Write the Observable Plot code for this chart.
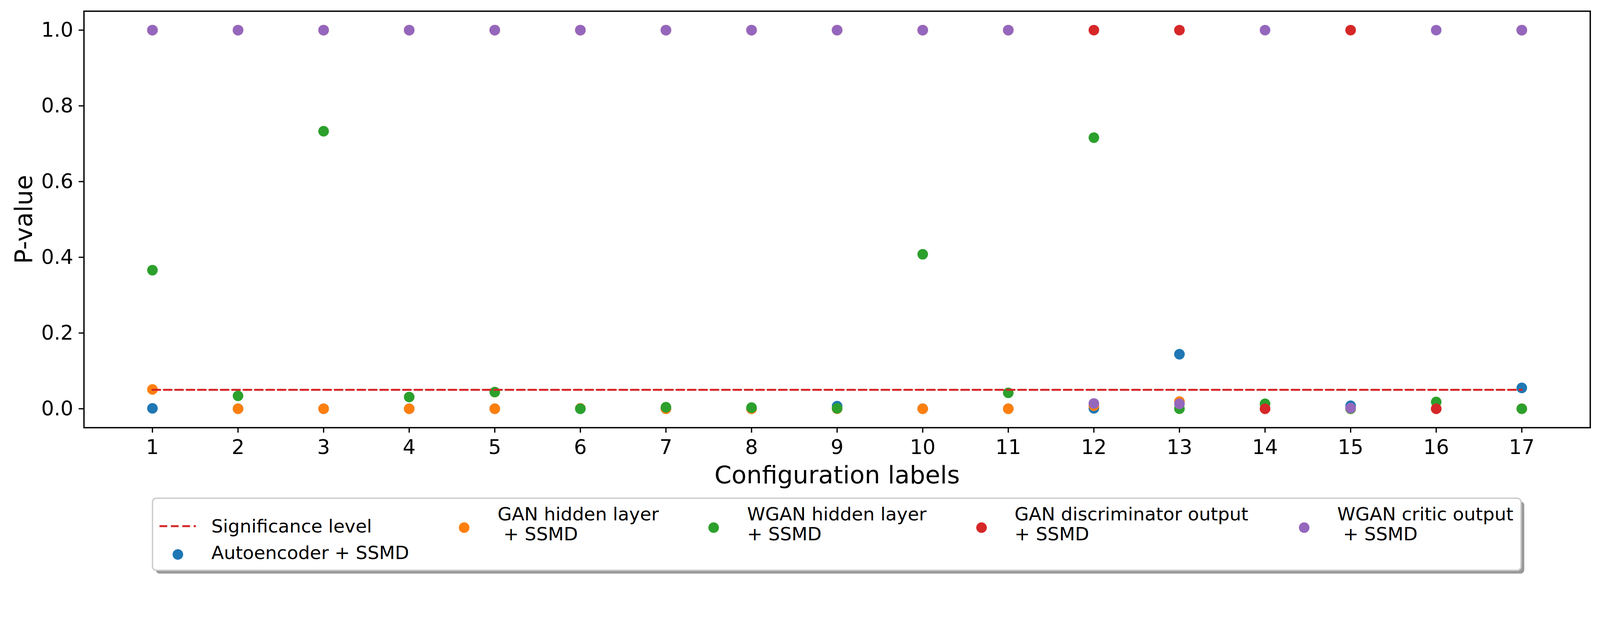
<!DOCTYPE html>
<html>
<head>
<meta charset="utf-8">
<script src="https://cdn.jsdelivr.net/npm/d3@7"></script>
<script src="https://cdn.jsdelivr.net/npm/@observablehq/plot@0.6"></script>
<style>
  html, body { margin: 0; padding: 0; background: #ffffff; overflow: hidden; }
  #chart { width: 100vw; }
  #chart svg { display: block; width: 100%; height: auto; max-width: none; }
</style>
</head>
<body>
<div id="chart"></div>
<script>
// ---------- data ----------
const configLabels = [1, 2, 3, 4, 5, 6, 7, 8, 9, 10, 11, 12, 13, 14, 15, 16, 17];
const autoencoderSSMD = [0.001, 0, 0, 0, 0, 0, 0, 0, 0.007, 0, 0, 0.001, 0.144, 0, 0.008, 0, 0.055];
const ganHiddenSSMD   = [0.051, 0, 0, 0, 0, 0.001, 0, 0, 0, 0, 0, 0.008, 0.019, 0, 0, 0, 0];
const wganHiddenSSMD  = [0.366, 0.034, 0.733, 0.031, 0.044, 0, 0.004, 0.003, 0.001, 0.408, 0.042, 0.716, 0, 0.013, 0, 0.018, 0];
const ganDiscSSMD     = [1, 1, 1, 1, 1, 1, 1, 1, 1, 1, 1, 1, 1, 0, 1, 0, 1];
const wganCriticSSMD  = [1, 1, 1, 1, 1, 1, 1, 1, 1, 1, 1, 0.014, 0.013, 1, 0.002, 1, 1];
const significanceLevel = 0.05;
const significanceX = [1, 17];

const seriesNames = [
  "Autoencoder + SSMD",
  "GAN hidden layer\n + SSMD",
  "WGAN hidden layer\n+ SSMD",
  "GAN discriminator output\n+ SSMD",
  "WGAN critic output\n + SSMD"
];
const seriesValues = [autoencoderSSMD, ganHiddenSSMD, wganHiddenSSMD, ganDiscSSMD, wganCriticSSMD];
const seriesColors = ["#1f77b4", "#ff7f0e", "#2ca02c", "#d62728", "#9467bd"];
const sigColor = "#d62728";
const sigLabel = "Significance level";

const xTicks = configLabels;
const yTicks = [0, 0.2, 0.4, 0.6, 0.8, 1.0];

// ---------- tables ----------
const points = [];
seriesNames.forEach((name, i) => {
  configLabels.forEach((c, j) => points.push({series: name, config: c, value: seriesValues[i][j]}));
});
const sigLine = significanceX.map(x => ({config: x, value: significanceLevel}));

// ---------- plot ----------
const W = 4354, H = 1345;
const fontFamily = "'DejaVu Sans', sans-serif";

const chart = Plot.plot({
  width: W,
  height: H,
  marginLeft: 228,
  marginRight: 27,
  marginTop: 30,
  marginBottom: H - 1164,
  x: {domain: [0.2, 17.8]},
  y: {domain: [-0.05, 1.05]},
  color: {domain: seriesNames, range: seriesColors},
  style: {fontFamily, fontSize: "55px", background: "#ffffff", color: "#000000", overflow: "visible"},
  marks: [
    Plot.dot(points, {x: "config", y: "value", fill: "series", r: 14.4, stroke: null}),
    Plot.line(sigLine, {x: "config", y: "value", stroke: sigColor, strokeWidth: 5.5, strokeDasharray: "21,10"}),
    Plot.frame({stroke: "#000000", strokeWidth: 3.7}),
    Plot.axisX({
      ticks: xTicks, tickFormat: d => String(d), tickSize: 14, tickPadding: 19,
      strokeWidth: 3.4, fontSize: 55,
      label: "Configuration labels", labelAnchor: "center", labelOffset: 151, labelArrow: "none"
    }),
    Plot.axisY({
      ticks: yTicks, tickFormat: d3.format(".1f"), tickSize: 14, tickPadding: 15,
      strokeWidth: 3.4, fontSize: 55,
      label: "P-value", labelAnchor: "center", labelOffset: 189, labelArrow: "none"
    })
  ]
});

d3.select(chart).selectAll('[aria-label="x-axis label"], [aria-label="y-axis label"]').attr("font-size", 66.5);
d3.select(chart).attr("viewBox", `0 0 ${W} ${H}`);
document.getElementById("chart").appendChild(chart);

// ---------- legend (below the plot svg) ----------
const LH = 1583 - H;
const oy = H; // page y offset of legend svg
const lg = d3.create("svg").attr("width", W).attr("height", LH).attr("viewBox", `0 0 ${W} ${LH}`)
  .style("font-family", fontFamily).style("font-size", "50px");

const box = {x: 415, y: 1357 - oy, w: 3724, h: 196};
lg.append("rect").attr("x", box.x + 9).attr("y", box.y + 9).attr("width", box.w).attr("height", box.h)
  .attr("rx", 10).attr("fill", "#9a9a9a");
lg.append("rect").attr("x", box.x).attr("y", box.y).attr("width", box.w).attr("height", box.h)
  .attr("rx", 10).attr("fill", "#ffffff").attr("stroke", "#cccccc").attr("stroke-width", 3.7);

// Significance level entry
lg.append("line").attr("x1", 434).attr("x2", 533).attr("y1", 1433 - oy).attr("y2", 1433 - oy)
  .attr("stroke", sigColor).attr("stroke-width", 5.5).attr("stroke-dasharray", "21,10");
lg.append("text").attr("x", 575).attr("y", 1450 - oy).text(sigLabel);

// Series entries
const entryPos = [
  {dx: 484, dy: 1510, tx: 575, ty: 1523},
  {dx: 1263, dy: 1437, tx: 1354, ty: 1417},
  {dx: 1942, dy: 1437, tx: 2033, ty: 1417},
  {dx: 2671, dy: 1437, tx: 2761, ty: 1417},
  {dx: 3549, dy: 1437, tx: 3639, ty: 1417}
];
seriesNames.forEach((name, i) => {
  const p = entryPos[i];
  lg.append("circle").attr("cx", p.dx).attr("cy", p.dy - oy).attr("r", 14.4).attr("fill", seriesColors[i]);
  const t = lg.append("text").attr("x", p.tx).attr("y", p.ty - oy).style("white-space", "pre");
  name.split("\n").forEach((line, k) => {
    t.append("tspan").attr("x", p.tx).attr("y", p.ty - oy + k * 55).text(line);
  });
});
document.getElementById("chart").appendChild(lg.node());
</script>
</body>
</html>
